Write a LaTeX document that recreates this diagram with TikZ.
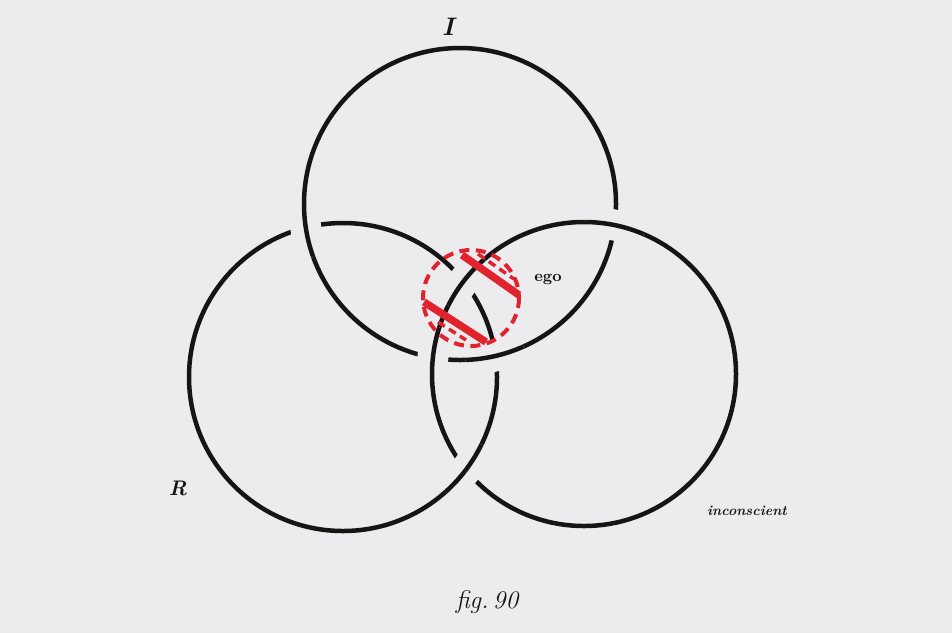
\documentclass[tikz,border=0pt]{standalone}
\usepackage{tikz}
\usetikzlibrary{positioning}
\definecolor{paperGrey}{HTML}{ECECEE}
\definecolor{inkBlack}{HTML}{151515}
\definecolor{egoRed}{HTML}{E0232D}

\begin{document}
\begin{tikzpicture}[x=0.02cm, y=-0.02cm,
    ring/.style={draw=inkBlack, line width=0.09cm},
    gapring/.style={draw=paperGrey, line width=0.62cm},
    egoring/.style={draw=egoRed, line width=0.08cm, dash pattern=on 0.2cm off 0.13cm},
    egobar/.style={draw=egoRed, line width=0.15cm},
    egodash/.style={draw=egoRed, line width=0.07cm, dash pattern=on 0.16cm off 0.1cm},
    lbl/.style={text=inkBlack, inner sep=0pt, font=\bfseries\itshape},
  ]
    \fill[paperGrey] (0,0) rectangle (952,633);

    % centres of the three rings and of the ego
    \coordinate (cI) at (460,204);
    \coordinate (cR) at (343,377);
    \coordinate (cS) at (584,374);
    \coordinate (cEgo) at (471,298);

    \draw[ring] (cI) circle (156);
    \draw[ring] (cR) circle (154);
    \draw[ring] (cS) circle (152);

    % crossings: the ring passing over is redrawn with a gap round it
    \foreach \px/\py/\c/\r in {306/228/cI/156, 495/356/cI/156,
                               430/356/cS/152, 615/225/cS/152,
                               462/279/cS/152, 466/470/cR/154} {
      \begin{scope}
        \clip (\px,\py) circle (30);
        \draw[gapring] (\c) circle (\r);
        \draw[ring] (\c) circle (\r);
      \end{scope}
    }

    % ego
    \draw[egoring] (cEgo) circle (48);
    \draw[egobar] (462,255) -- (519,295);
    \draw[egodash] (478,254) -- (514,279);
    \draw[egobar] (424,302) -- (486,342);
    \draw[egodash] (438,322) -- (466,340);

    \node[lbl, font=\Large\bfseries\itshape] (labI) at (448,27) {I};
    \node[lbl, font=\small\bfseries] (labEgo) at (548,279) {ego};
    \node[lbl, font=\large\bfseries\itshape] (labR) at (178,488) {R};
    \node[lbl, font=\footnotesize\bfseries\itshape] (labInc) at (747,511) {inconscient};
    \node[lbl, font=\Large\itshape\mdseries] (labFig) at (487,602) {fig.\,90};
  \end{tikzpicture}
\end{document}
